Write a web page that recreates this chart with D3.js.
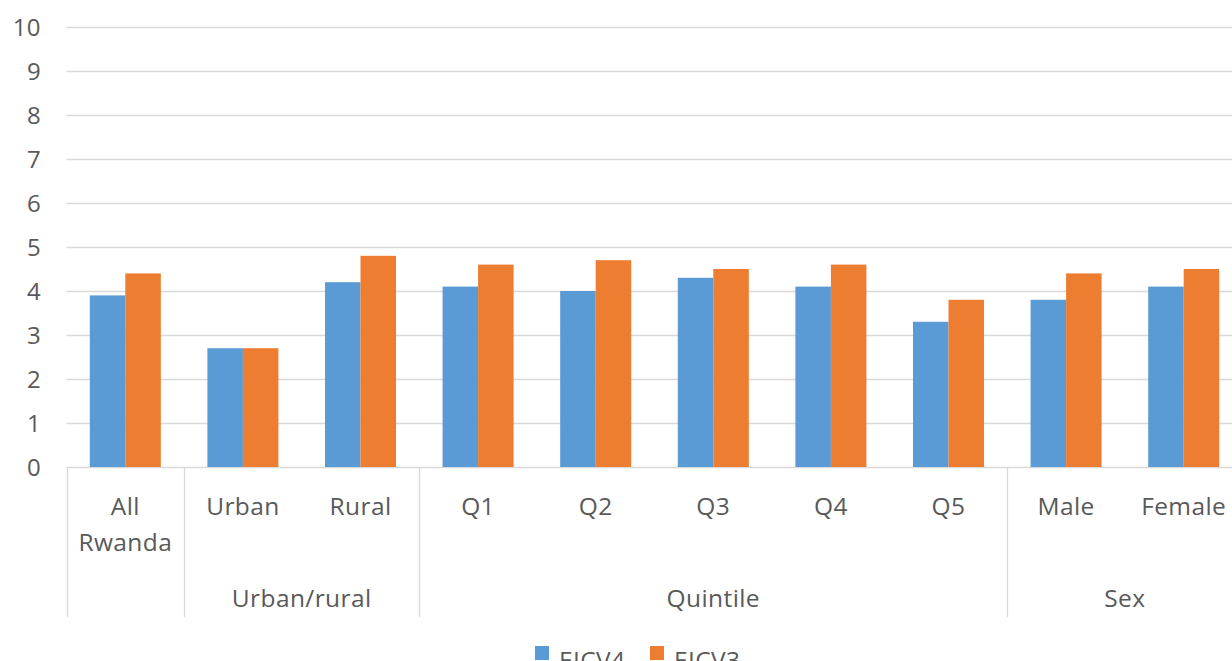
<!DOCTYPE html>
<html>
<head>
<meta charset="utf-8">
<script src="https://cdn.jsdelivr.net/npm/d3@7"></script>
<style>
  body { margin: 0; background: #fff; }
  svg text { font-family: "Open Sans", "Noto Sans", sans-serif; fill: #595959; letter-spacing: 0.4px; }
</style>
</head>
<body>
<svg width="1232" height="661"></svg>
<script>
// data
var categories = ["All Rwanda", "Urban", "Rural", "Q1", "Q2", "Q3", "Q4", "Q5", "Male", "Female"];
var eicv4 = [3.9, 2.7, 4.2, 4.1, 4.0, 4.3, 4.1, 3.3, 3.8, 4.1];
var eicv3 = [4.4, 2.7, 4.8, 4.6, 4.7, 4.5, 4.6, 3.8, 4.4, 4.5];
var groups = [
    {name: "", from: 0, to: 0},
    {name: "Urban/rural", from: 1, to: 2},
    {name: "Quintile", from: 3, to: 7},
    {name: "Sex", from: 8, to: 9}
];
var series = ["EICV4", "EICV3"];
var colors = ["#5b9bd5", "#ed7d31"];
var yTicks = [0, 1, 2, 3, 4, 5, 6, 7, 8, 9, 10];

var svg = d3.select("svg"),
    left = 66.5,
    step = 117.6,
    plotTop = 27,
    plotBottom = 467;

var x = d3.scaleBand()
    .domain(categories)
    .range([left, left + step * categories.length])
    .paddingInner(0.396)
    .paddingOuter(0.198);

var xs = d3.scaleBand()
    .domain(series)
    .range([0, x.bandwidth()]);

var y = d3.scaleLinear()
    .domain([0, 10])
    .range([plotBottom, plotTop]);

// gridlines
svg.append("g")
    .selectAll("line")
    .data(yTicks)
    .enter().append("line")
    .attr("x1", left)
    .attr("x2", 1232)
    .attr("y1", function(d) { return Math.round(y(d)) + 0.5; })
    .attr("y2", function(d) { return Math.round(y(d)) + 0.5; })
    .style("stroke", "#d9d9d9")
    .style("stroke-width", 1.3);

// y labels
svg.append("g")
    .selectAll("text")
    .data(yTicks)
    .enter().append("text")
    .attr("x", 41)
    .attr("y", function(d) { return y(d) + 8.5; })
    .attr("text-anchor", "end")
    .style("font-size", "24px")
    .text(function(d) { return d; });

// bars
var rows = categories.map(function(c, i) { return {cat: c, vals: [eicv4[i], eicv3[i]]}; });

var cat = svg.append("g")
    .selectAll("g")
    .data(rows)
    .enter().append("g")
    .attr("transform", function(d) { return "translate(" + x(d.cat) + ",0)"; });

cat.selectAll("rect")
    .data(function(d) { return d.vals.map(function(v, j) { return {s: series[j], v: v, j: j}; }); })
    .enter().append("rect")
    .attr("x", function(d) { return xs(d.s); })
    .attr("width", xs.bandwidth())
    .attr("y", function(d) { return y(d.v); })
    .attr("height", function(d) { return y(0) - y(d.v); })
    .style("fill", function(d) { return colors[d.j]; });

// category separators
var sepIdx = [0, 1, 3, 8];
svg.append("g")
    .selectAll("line")
    .data(sepIdx)
    .enter().append("line")
    .attr("x1", function(d) { return Math.round(left + step * d) + 0.5; })
    .attr("x2", function(d) { return Math.round(left + step * d) + 0.5; })
    .attr("y1", plotBottom)
    .attr("y2", 617)
    .style("stroke", "#d9d9d9")
    .style("stroke-width", 1.3);

// category labels
svg.append("g")
    .selectAll("text")
    .data(categories)
    .enter().append("text")
    .attr("x", function(d) { return x(d) + x.bandwidth() / 2; })
    .attr("y", 515)
    .attr("text-anchor", "middle")
    .style("font-size", "24.5px")
    .each(function(d) {
        var t = d3.select(this);
        if (d === "All Rwanda") {
            t.append("tspan").attr("x", x(d) + x.bandwidth() / 2).text("All");
            t.append("tspan").attr("x", x(d) + x.bandwidth() / 2).attr("dy", 36).text("Rwanda");
        } else {
            t.text(d);
        }
    });

// group labels
svg.append("g")
    .selectAll("text")
    .data(groups.filter(function(g) { return g.name; }))
    .enter().append("text")
    .attr("x", function(g) { return left + step * (g.from + g.to + 1) / 2; })
    .attr("y", 607)
    .attr("text-anchor", "middle")
    .style("font-size", "24.5px")
    .text(function(g) { return g.name; });

// legend
var legend = svg.append("g")
    .selectAll("g")
    .data(series)
    .enter().append("g")
    .attr("transform", function(d, i) { return "translate(" + (535 + i * 115) + ",646)"; });

legend.append("rect")
    .attr("width", 14)
    .attr("height", 14)
    .style("fill", function(d, i) { return colors[i]; });

legend.append("text")
    .attr("x", 24)
    .attr("y", 23)
    .style("font-size", "24.5px")
    .text(function(d) { return d; });
</script>
</body>
</html>
